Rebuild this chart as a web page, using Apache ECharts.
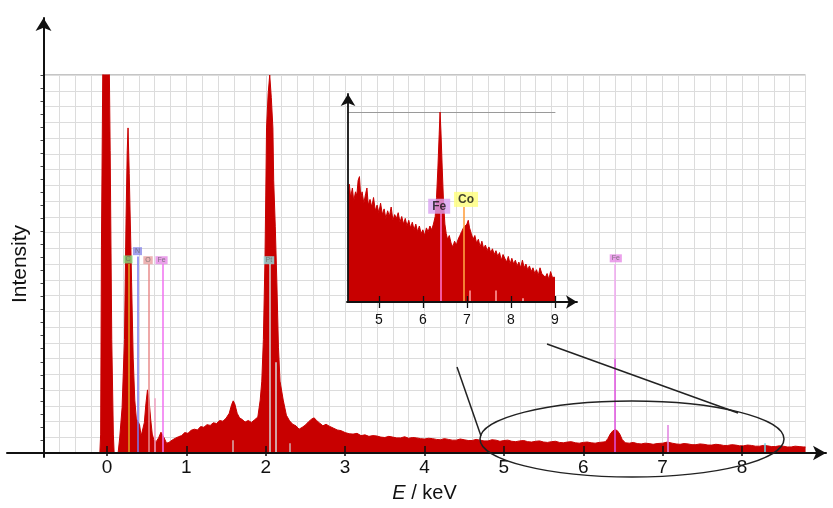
<!DOCTYPE html>
<html>
<head>
<meta charset="utf-8">
<script src="https://cdn.jsdelivr.net/npm/echarts@6/dist/echarts.min.js"></script>
<style>
html,body{margin:0;padding:0;background:#fff;}
#chart{width:833px;height:508px;}
</style>
</head>
<body>
<div id="chart"></div>
<script>
// ---------------- DATA ----------------
// Main EDS spectrum: [energy keV, intensity (arb., 100 = top of frame)]
const mainSpectrum = [
[-0.8,0],[-0.09,0],[-0.08,5],[-0.07,55],[-0.05,110],[-0.02,150],[0.01,140],[0.04,80],[0.06,30],[0.08,5],[0.09,0],
[0.14,0],[0.16,4],[0.19,12],[0.22,30],[0.24,62],[0.255,80],[0.265,86],[0.28,74],[0.3,55],[0.31,45],[0.33,25],[0.35,14],[0.37,9],[0.39,8.5],[0.41,7.5],[0.43,4.5],[0.45,4.2],[0.47,8],[0.49,13],[0.51,16.7],[0.53,14],[0.55,9],[0.57,5],[0.59,3.5],[0.62,3],[0.65,4],[0.68,5.5],[0.7,5.3],[0.72,4],[0.75,2.6],[0.78,2.8],
[0.82,3.4],[0.86,3.9],[0.9,4.3],[0.94,4.6],[0.98,5.4],[1.02,5.2],[1.06,6.0],[1.1,6.3],[1.14,6.1],[1.18,7.0],[1.22,6.8],[1.26,7.5],[1.3,7.3],[1.34,8.0],[1.38,7.8],[1.42,8.6],[1.46,8.4],[1.5,9.2],[1.54,10.5],[1.57,12.8],[1.59,13.8],[1.61,13],[1.64,10.5],[1.67,9.3],[1.7,8.9],[1.74,8.2],[1.78,8.6],[1.82,8.1],[1.86,8.8],[1.9,9.5],
[1.93,14],[1.95,19],[1.97,30],[1.99,51],[2.0,68],[2.01,86],[2.03,95],[2.05,100],[2.07,94],[2.09,86],[2.1,72],[2.12,60],[2.14,45],[2.16,28],[2.18,19],[2.22,14],[2.26,10],[2.3,8.5],
[2.34,7.6],[2.38,7.2],[2.42,6.3],[2.46,6.8],[2.5,7.4],[2.54,8.3],[2.58,9.0],[2.61,9.3],[2.64,8.6],[2.68,7.9],[2.72,7.2],[2.76,7.6],[2.8,7.1],[2.85,6.6],[2.9,6.1],[2.95,5.9],
[3.0,5.4],[3.05,5.1],[3.1,5.0],[3.15,5.2],[3.2,4.6],[3.25,4.8],[3.3,4.4],[3.35,4.6],[3.4,4.5],[3.45,4.2],[3.5,4.1],[3.55,4.4],[3.6,4.2],[3.65,4.0],[3.7,4.0],[3.75,4.3],[3.8,3.9],[3.85,4.1],[3.9,4.0],[3.95,3.8],
[4.0,3.7],[4.05,3.9],[4.1,3.8],[4.15,3.6],[4.2,3.5],[4.25,3.8],[4.3,3.6],[4.35,3.4],[4.4,3.4],[4.45,3.7],[4.5,3.5],[4.55,3.3],[4.6,3.3],[4.65,3.6],[4.7,3.4],[4.75,3.2],[4.8,3.2],[4.85,3.5],[4.9,3.4],[4.95,3.1],
[5.0,3.3],[5.05,3.4],[5.1,3.1],[5.15,3.0],[5.2,3.2],[5.25,3.3],[5.3,3.0],[5.35,2.9],[5.4,3.1],[5.45,3.2],[5.5,2.9],[5.55,2.8],[5.6,3.0],[5.65,3.1],[5.7,2.8],[5.75,2.7],[5.8,2.9],[5.85,3.0],[5.9,2.7],[5.95,2.6],
[6.0,2.8],[6.05,2.9],[6.1,2.7],[6.15,2.6],[6.2,2.8],[6.25,2.9],[6.28,3.0],[6.31,3.8],[6.34,5.0],[6.37,5.8],[6.4,6.2],[6.43,5.9],[6.46,5.0],[6.49,3.6],[6.53,2.7],[6.58,2.6],[6.63,2.8],[6.68,2.5],[6.73,2.4],[6.78,2.6],[6.83,2.5],[6.88,2.3],[6.93,2.5],
[7.0,2.6],[7.06,2.9],[7.12,2.6],[7.17,2.4],[7.22,2.3],[7.27,2.5],[7.32,2.4],[7.37,2.2],[7.42,2.2],[7.47,2.4],[7.52,2.3],[7.57,2.1],[7.62,2.1],[7.67,2.3],[7.72,2.2],[7.77,2.0],[7.82,2.0],[7.87,2.2],[7.92,2.1],[7.97,1.9],
[8.02,1.9],[8.07,2.1],[8.12,2.0],[8.17,1.8],[8.22,1.8],[8.27,2.0],[8.32,1.9],[8.37,1.7],[8.42,1.7],[8.47,1.9],[8.52,1.8],[8.57,1.6],[8.62,1.6],[8.67,1.8],[8.72,1.7],[8.77,1.6],[8.8,1.6]
];

// Inset spectrum (4.3 - 9 keV), intensity rescaled so the Fe K-alpha peak = 100
const insetSpectrum = [
[4.3,57],[4.33,62],[4.36,55],[4.4,60],[4.43,53],[4.47,58],[4.5,56],[4.53,64],[4.56,66],[4.59,55],[4.62,58],[4.66,52],[4.7,57],[4.73,60],[4.76,51],[4.8,54],[4.84,50],[4.88,55],[4.92,48],[4.96,51],
[5.0,47],[5.04,52],[5.08,46],[5.12,49],[5.16,44],[5.2,48],[5.24,45],[5.28,50],[5.32,43],[5.36,46],[5.4,44],[5.44,47],[5.48,42],[5.52,45],[5.56,41],[5.6,44],[5.64,40],[5.68,43],[5.72,39],[5.76,42],
[5.8,38],[5.84,41],[5.88,37],[5.92,40],[5.96,36],[6.0,38],[6.04,35],[6.08,39],[6.12,37],[6.16,40],[6.2,38],[6.24,41],[6.28,45],[6.31,55],[6.34,70],[6.37,88],[6.39,100],[6.41,90],[6.44,70],[6.47,52],
[6.5,41],[6.53,36],[6.56,33],[6.6,35],[6.64,31],[6.68,29],[6.72,32],[6.76,30],[6.8,33],[6.84,35],[6.88,37],[6.92,39],[6.96,40],[7.0,41],[7.03,43],[7.06,39],[7.1,36],[7.14,33],[7.18,35],[7.22,31],
[7.26,33],[7.3,29],[7.34,32],[7.38,28],[7.42,30],[7.46,27],[7.5,29],[7.54,26],[7.58,28],[7.62,25],[7.66,27],[7.7,24],[7.74,26],[7.78,22],[7.82,25],[7.86,23],[7.9,21],[7.94,24],[7.98,20],[8.02,23],
[8.06,20],[8.1,22],[8.14,19],[8.18,21],[8.22,18],[8.26,22],[8.3,18],[8.34,20],[8.38,17],[8.42,19],[8.46,16],[8.5,18],[8.54,15],[8.58,17],[8.62,14],[8.66,18],[8.7,15],[8.74,16],[8.78,13],[8.82,15],
[8.86,12],[8.9,16],[8.94,13],[8.98,14],[9.0,13]
];

// Element marker lines in the main plot: energy (keV), from / to height
const mainLineE    = [0.277, 0.392, 0.525, 0.705, 2.048, 6.40, 6.40, 7.06, 0.60, 2.13, 1.59, 2.30, 8.29];
const mainLineFrom = [0,     0,     0,     0,     0,     0,    25,   0,    0,    0,    0,    0,    0];
const mainLineTo   = [50,    52,    50,    50,    50,    25,   50,   7.4,  14.5, 24,   3.4,  2.6,  2.6];

// Element labels in the main plot
const mainLabelText = ['C', 'N', 'O', 'Fe', 'Pt', 'Fe'];
const mainLabelE    = [0.265, 0.384, 0.517, 0.687, 2.04, 6.41];
const mainLabelI    = [51.2, 53.4, 51, 51, 51, 51.5];

// Inset marker lines and labels
const insetLineE  = [6.40, 6.92, 7.06, 7.65, 8.27];
const insetLineTo = [46.7, 50, 6, 6, 2];
const insetLabelText = ['Fe', 'Co'];
const insetLabelE    = [6.37, 6.98];
const insetLabelI    = [50.4, 54];

// Tick labels
const mainTicks  = [0, 1, 2, 3, 4, 5, 6, 7, 8];
const insetTicks = [5, 6, 7, 8, 9];

// ---------------- STYLES ----------------
const FONT = "'Liberation Sans', Arial, Helvetica, sans-serif";
const RED = '#c80000';
const mainLineColors = ['#e0a020', '#7a7af0', '#e88c8c', '#f070f0', '#d4d4d4', '#e050e0', '#f0a8f0', '#e080e0', '#f0a0c0', '#d8d8d8', '#d8b0b0', '#d0b0b0', '#70d0e0'];
const mainLabelBg = ['#7fe07f', '#8a8ae8', '#e8a0a0', '#e68ae6', '#8ee6e6', '#e68ae6'];
const insetLineColors = ['#ff70c8', '#ffa040', '#ff9a9a', '#ff9a9a', '#ffb0b0'];
const insetLabelBg = ['#d9a3f2', '#ffff7a'];

const hiddenY = (grid) => ({ gridIndex: grid, type: 'value', min: 0, max: 1, show: false });
const hiddenX = (grid) => ({ gridIndex: grid, type: 'value', min: 0, max: 1, show: false });

const chart = echarts.init(document.getElementById('chart'), null, { renderer: 'canvas' });

const option = {
  animation: false,
  backgroundColor: '#fff',
  grid: [
    { left: 43.5, right: 27.5, top: 75, bottom: 55, show: true, borderColor: '#8a8a8a', borderWidth: 1 }, // g0 main
    { left: 107, right: 91, top: 75, bottom: 55 },   // g1 main ticks out + labels (0..8)
    { left: 107, right: 91, top: 75, bottom: 55 },   // g2 main ticks in
    { left: 7, right: 7, top: 75, bottom: 55 },      // g3 main x arrow
    { left: 43.5, right: 27.5, top: 18, bottom: 51 },// g4 main y arrow
    { left: 348, right: 278, top: 112, bottom: 206 },// g5 inset data
    { left: 378.83, right: 278, top: 112, bottom: 206 }, // g6 inset ticks out + labels
    { left: 378.83, right: 278, top: 112, bottom: 206 }, // g7 inset ticks in
    { left: 347, right: 256, top: 112, bottom: 206 },    // g8 inset x arrow
    { left: 348, right: 278, top: 94, bottom: 206 }      // g9 inset y arrow
  ],
  xAxis: [
    { // x0 main data axis, grid lines, name
      gridIndex: 0, type: 'value', min: -0.8, max: 8.8, interval: 0.2,
      axisLine: { show: false, onZero: false }, axisTick: { show: false }, axisLabel: { show: false },
      splitLine: { show: true, lineStyle: { color: '#dcdcdc', width: 1 } },
      name: '{i|E} / keV', nameLocation: 'middle', nameGap: 30,
      nameTextStyle: { fontFamily: FONT, fontSize: 20, color: '#111',
        rich: { i: { fontFamily: FONT, fontSize: 20, fontStyle: 'italic', color: '#111' } } }
    },
    { // x1 main labels + outer ticks
      gridIndex: 1, type: 'value', min: mainTicks[0], max: mainTicks[mainTicks.length - 1], interval: 1,
      axisLine: { show: false, onZero: false },
      axisTick: { show: true, inside: false, length: 3, lineStyle: { color: '#111', width: 1.5 } },
      axisLabel: { show: true, margin: 5, fontFamily: FONT, fontSize: 19, color: '#111' },
      splitLine: { show: false }, z: 12
    },
    { // x2 main inner ticks
      gridIndex: 2, type: 'value', min: mainTicks[0], max: mainTicks[mainTicks.length - 1], interval: 1,
      axisLine: { show: false, onZero: false },
      axisTick: { show: true, inside: true, length: 7, lineStyle: { color: '#111', width: 1.5 } },
      axisLabel: { show: false }, splitLine: { show: false }, z: 12
    },
    { // x3 main x arrow
      gridIndex: 3, type: 'value', min: 0, max: 1,
      axisLine: { show: true, onZero: false, symbol: ['none', 'arrow'], symbolSize: [11, 13], lineStyle: { color: '#111', width: 2 } },
      axisTick: { show: false }, axisLabel: { show: false }, splitLine: { show: false }, z: 12
    },
    hiddenX(4),
    { // x5 inset data
      gridIndex: 5, type: 'value', min: 4.3, max: 9,
      axisLine: { show: false, onZero: false }, axisTick: { show: false }, axisLabel: { show: false }, splitLine: { show: false }
    },
    { // x6 inset top border
      gridIndex: 5, type: 'value', min: 4.3, max: 9, position: 'top',
      axisLine: { show: true, onZero: false, lineStyle: { color: '#9a9a9a', width: 1 } },
      axisTick: { show: false }, axisLabel: { show: false }, splitLine: { show: false }
    },
    { // x7 inset labels + outer ticks
      gridIndex: 6, type: 'value', min: insetTicks[0], max: insetTicks[insetTicks.length - 1], interval: 1,
      axisLine: { show: false, onZero: false },
      axisTick: { show: true, inside: false, length: 6, lineStyle: { color: '#111', width: 1.3 } },
      axisLabel: { show: true, margin: 11, fontFamily: FONT, fontSize: 14, color: '#111' },
      splitLine: { show: false }, z: 12
    },
    { // x8 inset inner ticks
      gridIndex: 7, type: 'value', min: insetTicks[0], max: insetTicks[insetTicks.length - 1], interval: 1,
      axisLine: { show: false, onZero: false },
      axisTick: { show: true, inside: true, length: 6, lineStyle: { color: '#111', width: 1.3 } },
      axisLabel: { show: false }, splitLine: { show: false }, z: 12
    },
    { // x9 inset x arrow
      gridIndex: 8, type: 'value', min: 0, max: 1,
      axisLine: { show: true, onZero: false, symbol: ['none', 'arrow'], symbolSize: [10, 11], lineStyle: { color: '#111', width: 1.8 } },
      axisTick: { show: false }, axisLabel: { show: false }, splitLine: { show: false }, z: 12
    },
    hiddenX(9)
  ],
  yAxis: [
    { // y0 main left ticks + name
      gridIndex: 0, type: 'value', min: 0, max: 29, interval: 1, position: 'left',
      axisLine: { show: false, onZero: false },
      axisTick: { show: true, inside: false, length: 3, lineStyle: { color: '#444', width: 1 } },
      axisLabel: { show: false }, splitLine: { show: false },
      name: 'Intensity', nameLocation: 'middle', nameGap: 13,
      nameTextStyle: { fontFamily: FONT, fontSize: 21, color: '#111' }
    },
    { // y1 main data
      gridIndex: 0, type: 'value', min: 0, max: 100, position: 'right',
      axisLine: { show: false, onZero: false }, axisTick: { show: false }, axisLabel: { show: false }, splitLine: { show: false }
    },
    { // y2 main horizontal grid lines
      gridIndex: 0, type: 'value', min: 0, max: 24, interval: 1, position: 'right',
      axisLine: { show: false, onZero: false }, axisTick: { show: false }, axisLabel: { show: false },
      splitLine: { show: true, lineStyle: { color: '#dcdcdc', width: 1 } }
    },
    hiddenY(1), hiddenY(2), hiddenY(3),
    { // y6 main y arrow
      gridIndex: 4, type: 'value', min: 0, max: 1,
      axisLine: { show: true, onZero: false, symbol: ['none', 'arrow'], symbolSize: [12, 13], lineStyle: { color: '#111', width: 2 } },
      axisTick: { show: false }, axisLabel: { show: false }, splitLine: { show: false }, z: 12
    },
    { // y7 inset data
      gridIndex: 5, type: 'value', min: 0, max: 100,
      axisLine: { show: false, onZero: false }, axisTick: { show: false }, axisLabel: { show: false }, splitLine: { show: false }
    },
    hiddenY(6), hiddenY(7), hiddenY(8),
    { // y11 inset y arrow
      gridIndex: 9, type: 'value', min: 0, max: 1,
      axisLine: { show: true, onZero: false, symbol: ['none', 'arrow'], symbolSize: [11, 12], lineStyle: { color: '#111', width: 1.8 } },
      axisTick: { show: false }, axisLabel: { show: false }, splitLine: { show: false }, z: 12
    }
  ],
  series: [
    {
      type: 'line', name: 'spectrum', xAxisIndex: 0, yAxisIndex: 1,
      data: mainSpectrum, showSymbol: false, symbol: 'none', clip: true,
      lineStyle: { color: RED, width: 1 }, areaStyle: { color: RED, opacity: 1 },
      z: 3,
      markLine: {
        silent: true, symbol: ['none', 'none'], label: { show: false },
        data: mainLineE.map((e, i) => [
          { coord: [e, mainLineFrom[i]], lineStyle: { color: mainLineColors[i], width: 1.5, type: 'solid' } },
          { coord: [e, mainLineTo[i]] }
        ])
      }
    },
    {
      type: 'scatter', xAxisIndex: 0, yAxisIndex: 1, symbolSize: 0, z: 6, silent: true,
      data: mainLabelText.map((t, i) => ({
        value: [mainLabelE[i], mainLabelI[i]], name: t,
        label: { backgroundColor: mainLabelBg[i] }
      })),
      label: { show: true, position: 'inside', formatter: p => p.name, fontFamily: FONT, fontSize: 7, color: '#666', padding: [1, 2, 0, 2] }
    },
    {
      type: 'line', name: 'inset', xAxisIndex: 5, yAxisIndex: 7,
      data: insetSpectrum, showSymbol: false, symbol: 'none', clip: true,
      lineStyle: { color: RED, width: 1 }, areaStyle: { color: RED, opacity: 1 },
      z: 3,
      markLine: {
        silent: true, symbol: ['none', 'none'], label: { show: false },
        data: insetLineE.map((e, i) => [
          { coord: [e, 0], lineStyle: { color: insetLineColors[i], width: 1.6, type: 'solid' } },
          { coord: [e, insetLineTo[i]] }
        ])
      }
    },
    {
      type: 'scatter', xAxisIndex: 5, yAxisIndex: 7, symbolSize: 0, z: 6, silent: true,
      data: insetLabelText.map((t, i) => ({
        value: [insetLabelE[i], insetLabelI[i]], name: t,
        label: { backgroundColor: insetLabelBg[i] }
      })),
      label: { show: true, position: 'inside', formatter: p => p.name, fontFamily: FONT, fontSize: 12, fontWeight: 'bold', color: '#111', padding: [2, 4, 1, 4] }
    }
  ],
  graphic: [
    { type: 'ellipse', shape: { cx: 632, cy: 439, rx: 152, ry: 38 }, style: { fill: 'none', stroke: '#222', lineWidth: 1.5 }, z: 20 },
    { type: 'line', shape: { x1: 457, y1: 367, x2: 481, y2: 436 }, style: { stroke: '#222', lineWidth: 1.5 }, z: 20 },
    { type: 'line', shape: { x1: 547, y1: 344, x2: 738, y2: 413 }, style: { stroke: '#222', lineWidth: 1.5 }, z: 20 }
  ]
};

chart.setOption(option);
</script>
</body>
</html>
